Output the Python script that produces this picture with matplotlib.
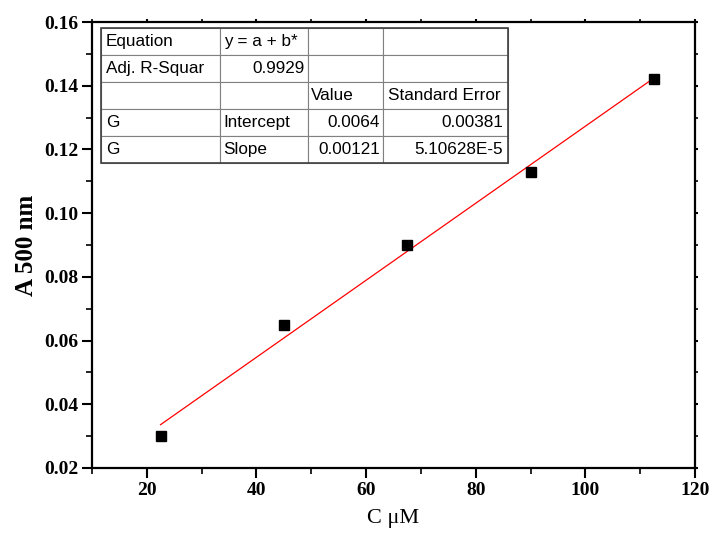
import numpy as np
import matplotlib
matplotlib.use("Agg")
import matplotlib.pyplot as plt
from matplotlib.ticker import MultipleLocator
from matplotlib.table import Table

# concentration (uM) and absorbance at 500 nm
conc = [22.5, 45, 67.5, 90, 112.5]
absorb = [0.030, 0.065, 0.090, 0.113, 0.142]

# fit summary table (as printed by the fitting software)
table_rows = [
    ["Equation", "y = a + b*", "", ""],
    ["Adj. R-Squar", "0.9929", "", ""],
    ["", "", "Value", "Standard Error"],
    ["G", "Intercept", "0.0064", "0.00381"],
    ["G", "Slope", "0.00121", "5.10628E-5"],
]
table_align = [
    ["left", "left", "left", "left"],
    ["left", "right", "left", "left"],
    ["left", "left", "left", "left"],
    ["left", "left", "right", "right"],
    ["left", "left", "right", "right"],
]
col_widths = [119, 88, 75, 125]

serif = "Liberation Serif"
sans = "Liberation Sans"


def main():
    fig = plt.figure(figsize=(7.1, 5.35), dpi=100)
    ax = fig.add_axes([92 / 710, 1 - 468 / 535, 603 / 710, 446 / 535])

    b, a = np.polyfit(conc, absorb, 1)
    xs = np.array([conc[0], conc[-1]])
    ax.plot(xs, a + b * xs, color="red", lw=0.9, zorder=2)
    ax.plot(conc, absorb, ls="none", marker="s", ms=7.5, color="black", zorder=3)

    ax.set_xlim(10, 120)
    ax.set_ylim(0.02, 0.16)
    ax.xaxis.set_major_locator(MultipleLocator(20))
    ax.xaxis.set_minor_locator(MultipleLocator(10))
    ax.yaxis.set_major_locator(MultipleLocator(0.02))
    ax.yaxis.set_minor_locator(MultipleLocator(0.01))
    ax.yaxis.set_major_formatter(plt.FuncFormatter(lambda v, p: f"{v:.2f}"))

    for s in ax.spines.values():
        s.set_linewidth(1.6)
    ax.tick_params(which="major", direction="out", length=7, width=1.5,
                   labelsize=14, pad=3)
    ax.tick_params(which="minor", direction="out", length=4, width=1.2)
    ax.tick_params(which="both", top=True, right=True)
    for t in ax.xaxis.get_major_ticks() + ax.xaxis.get_minor_ticks():
        t.tick2line.set_markersize(2)
    for t in ax.yaxis.get_major_ticks() + ax.yaxis.get_minor_ticks():
        t.tick2line.set_markersize(2)
    for lab in ax.get_xticklabels() + ax.get_yticklabels():
        lab.set_fontfamily(serif)
        lab.set_fontweight("bold")

    ax.set_xlabel("C \u03bcM", fontfamily=serif, fontsize=16, labelpad=7)
    ax.set_ylabel("A 500 nm", fontfamily=serif, fontsize=18, fontweight="bold", labelpad=4)

    # fit table
    left, right = 0.015, 0.690
    top, bottom = 0.9865, 0.684
    total = sum(col_widths)
    row_h = (top - bottom) / len(table_rows)
    tab = Table(ax, bbox=[left, bottom, right - left, top - bottom])
    for r, row in enumerate(table_rows):
        for c, txt in enumerate(row):
            w = (right - left) * col_widths[c] / total
            cell = tab.add_cell(r, c, width=w, height=row_h, text=txt,
                                loc=table_align[r][c], edgecolor="#808080")
            cell.set_linewidth(0.8)
            cell.get_text().set_fontfamily(sans)
            cell.PAD = 0.04
    tab.auto_set_font_size(False)
    tab.set_fontsize(12.3)
    tab.set_zorder(4)
    ax.add_table(tab)
    ax.add_patch(plt.Rectangle((left, bottom), right - left, top - bottom,
                               transform=ax.transAxes, fill=False,
                               edgecolor="#404040", lw=1.2, zorder=5))

    fig.savefig("out.png", dpi=100)


if __name__ == "__main__":
    main()
